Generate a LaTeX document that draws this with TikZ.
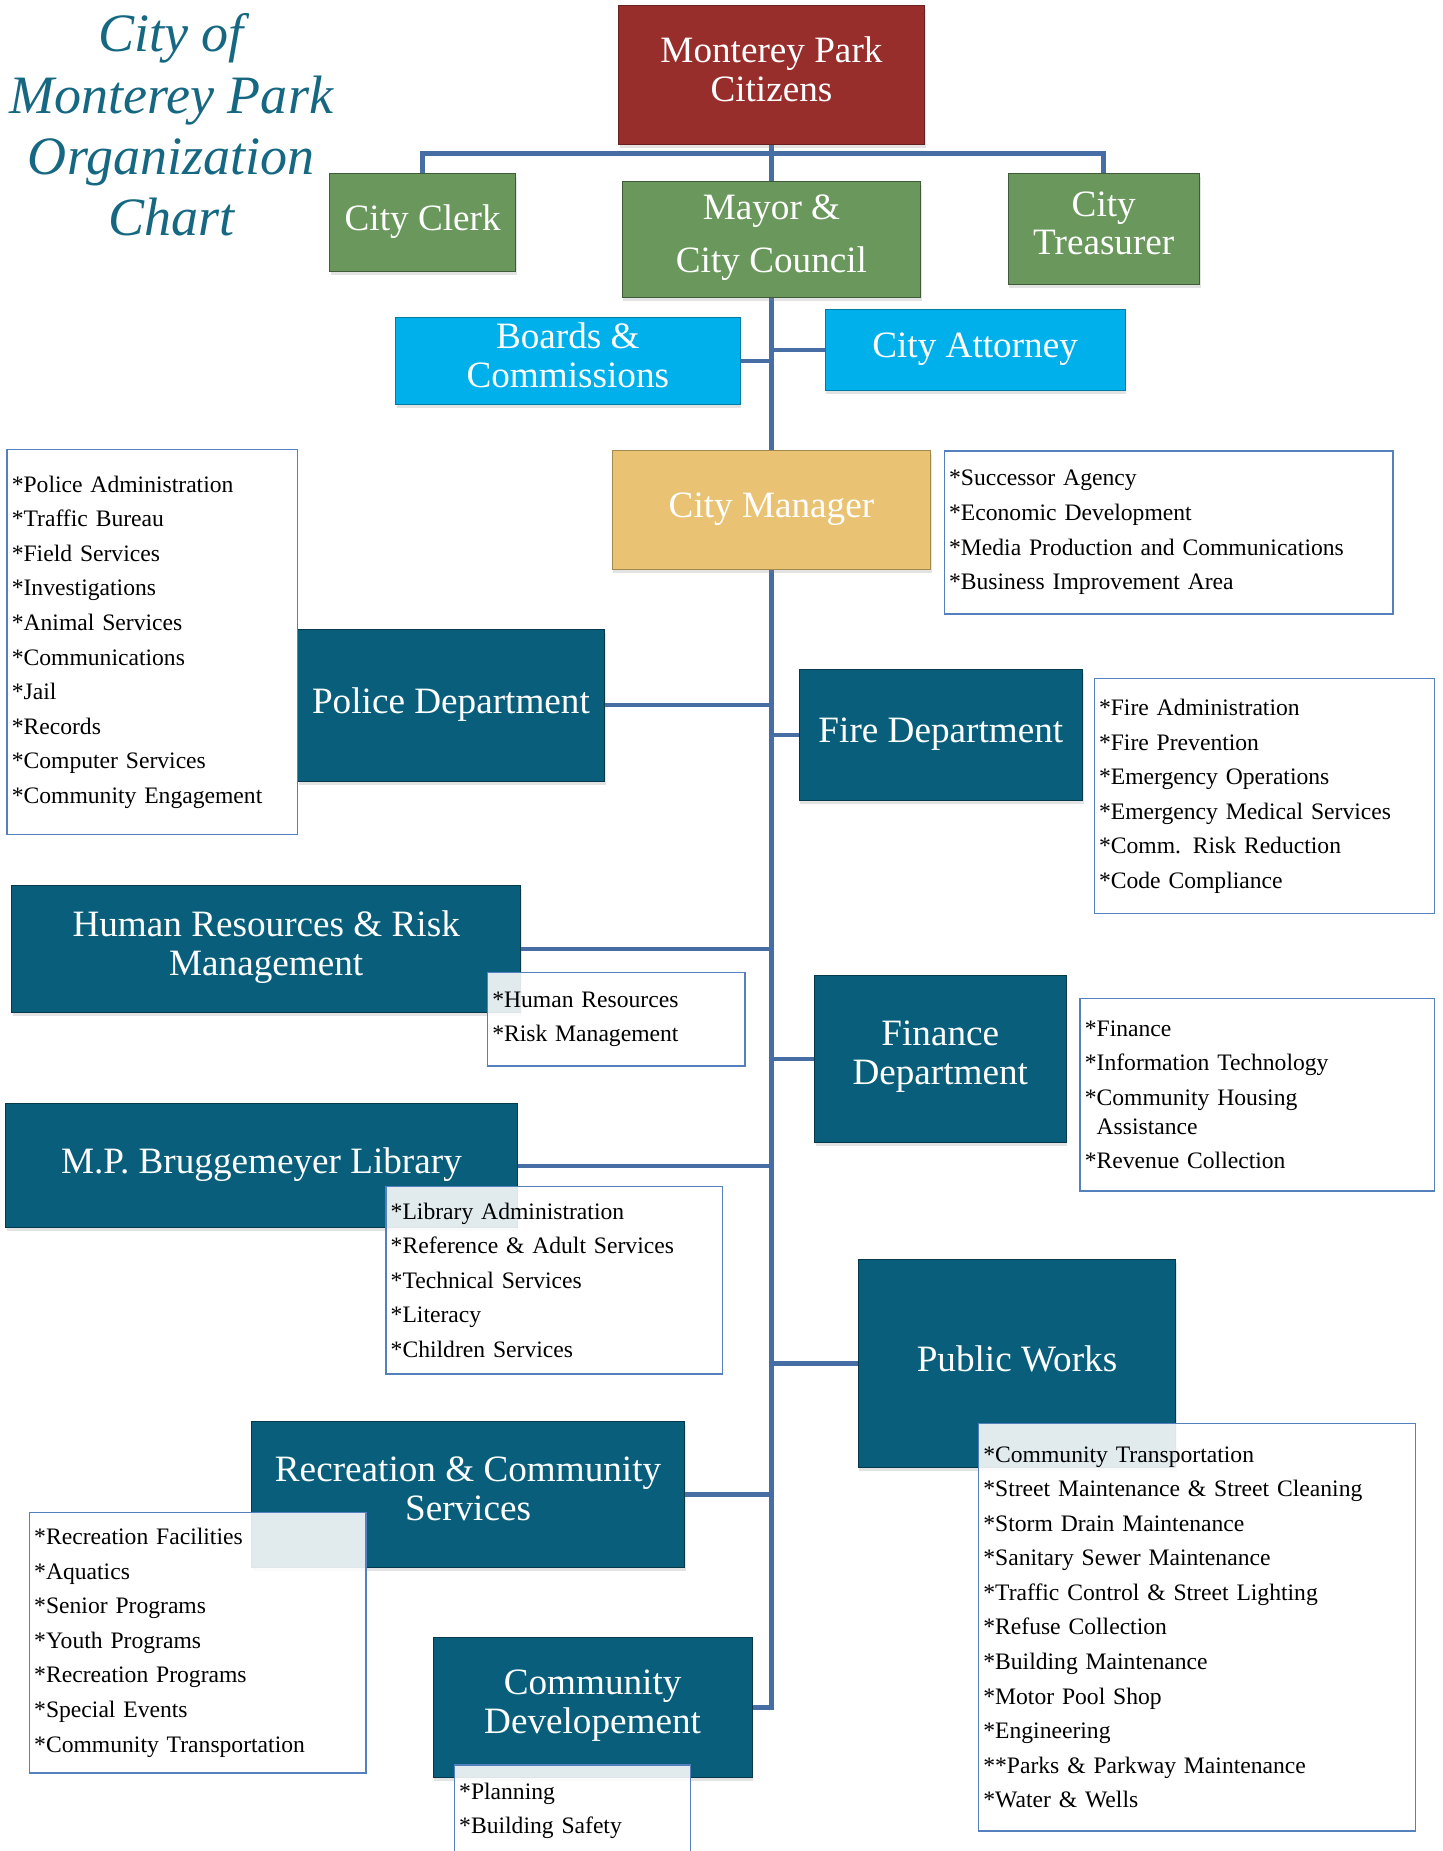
\documentclass[tikz,border=0pt]{standalone}
\usepackage{fontspec}
\setmainfont{Liberation Serif}
\usetikzlibrary{shadows, backgrounds}
\definecolor{citred}{RGB}{152,46,44}
\definecolor{electgreen}{RGB}{106,152,92}
\definecolor{advblue}{RGB}{0,176,235}
\definecolor{mgrgold}{RGB}{233,195,115}
\definecolor{deptteal}{RGB}{9,95,123}
\definecolor{linkblue}{RGB}{70,110,165}
\definecolor{listblue}{RGB}{84,128,190}
\definecolor{titleteal}{RGB}{22,104,130}
\tikzstyle{box} = [rectangle, inner sep=0pt, outer sep=0pt, text=white, align=center, font=\fontsize{31.5}{33}\selectfont, execute at end node={\strut}, line width=0.8pt, drop shadow={shadow xshift=1pt, shadow yshift=-3pt, opacity=0.22}]
\tikzstyle{citizens} = [box, fill=citred, draw=citred!70!black]
\tikzstyle{elected} = [box, fill=electgreen, draw=electgreen!60!black]
\tikzstyle{advisory} = [box, fill=advblue, draw=advblue!70!black]
\tikzstyle{manager} = [box, fill=mgrgold, draw=mgrgold!70!black]
\tikzstyle{dept} = [box, fill=deptteal, draw=deptteal!60!black]
\tikzstyle{duties} = [rectangle, draw=listblue, line width=1.2pt, fill=white, fill opacity=0.88, text opacity=1, inner xsep=4pt, inner ysep=0pt, align=left, font=\fontsize{20}{29.3}\selectfont]
\tikzstyle{link} = [draw=linkblue, line width=3.6pt]
\begin{document}
\begin{tikzpicture}[x=1pt, y=-1pt]
\useasboundingbox (0,0) rectangle (1222,1568);

\node (title) [font=\itshape\fontsize{45.8}{52}\selectfont, text=titleteal, align=center] at (145,106) {City of\\Monterey Park\\Organization\\Chart};

% elected and appointed
\node (cit) [citizens, minimum width=259pt, minimum height=117pt] at (653.5,63.5) {Monterey Park\\Citizens};
\node (clerk) [elected, minimum width=158pt, minimum height=83pt] at (358,188.5) {City Clerk};
\node (mayor) [elected, minimum width=253pt, minimum height=98pt] at (653.5,203) {Mayor \&\\[12pt]City Council};
\node (treas) [elected, minimum width=162pt, minimum height=94pt] at (935,194) {City\\Treasurer};
\node (boards) [advisory, minimum width=292pt, minimum height=74pt] at (481,306) {Boards \&\\Commissions};
\node (atty) [advisory, minimum width=254pt, minimum height=69pt] at (826,296.5) {City Attorney};
\node (mgr) [manager, minimum width=270pt, minimum height=100pt] at (653.5,432) {City Manager};

% departments
\node (police) [dept, minimum width=260pt, minimum height=129pt] at (382,597.5) {Police Department};
\node (fire) [dept, minimum width=240pt, minimum height=111pt] at (797,622.5) {Fire Department};
\node (hr) [dept, minimum width=431pt, minimum height=108pt] at (225.5,804) {Human Resources \& Risk\\Management};
\node (fin) [dept, minimum width=213pt, minimum height=142pt] at (796.5,897) {Finance\\Department};
\node (lib) [dept, minimum width=433pt, minimum height=105pt] at (221.5,987.5) {M.P. Bruggemeyer Library};
\node (pw) [dept, minimum width=269pt, minimum height=176pt] at (861.5,1155) {Public Works};
\node (rec) [dept, minimum width=367pt, minimum height=124pt] at (396.5,1266) {Recreation \& Community\\Services};
\node (cd) [dept, minimum width=270pt, minimum height=119pt] at (502,1446.5) {Community\\Developement};

\coordinate (bus) at (653.5,130);

\begin{scope}[on background layer]
\draw [link] (cit.south) -- (mayor.north);
\draw [link, line width=4.2pt] (clerk.north) |- (bus) -| (treas.north);
\draw [link] (mayor.south) -- (mgr.north);
\draw [link] (mgr.south) |- (cd.east);
\draw [link] (boards.east) -- (boards.east -| mgr.north);
\draw [link] (atty.west) -- (atty.west -| mgr.north);
\draw [link] (police.east) -- (police.east -| mgr.south);
\draw [link] (fire.west) -- (fire.west -| mgr.south);
\draw [link] (hr.east) -- (hr.east -| mgr.south);
\draw [link] (fin.west) -- (fin.west -| mgr.south);
\draw [link] (lib.east) -- (lib.east -| mgr.south);
\draw [link] (pw.west) -- (pw.west -| mgr.south);
\draw [link] (rec.east) -- (rec.east -| mgr.south);
\end{scope}

% duty lists
\node (mgrlist) [duties, text width=372pt, minimum height=138pt] at (990,451) {*Successor Agency\\{}*Economic Development\\{}*Media Production and Communications\\{}*Business Improvement Area};
\node (policelist) [duties, text width=238pt, minimum height=326pt] at (129,544) {*Police Administration\\{}*Traffic Bureau\\{}*Field Services\\{}*Investigations\\{}*Animal Services\\{}*Communications\\{}*Jail\\{}*Records\\{}*Computer Services\\{}*Community Engagement};
\node (firelist) [duties, text width=280pt, minimum height=199pt] at (1071,674.5) {*Fire Administration\\{}*Fire Prevention\\{}*Emergency Operations\\{}*Emergency Medical Services\\{}*Comm. Risk Reduction\\{}*Code Compliance};
\node (hrlist) [duties, text width=210pt, minimum height=79pt] at (522,863.5) {*Human Resources\\{}*Risk Management};
\node (finlist) [duties, text width=292pt, minimum height=163pt] at (1065,927.5) {*Finance\\{}*Information Technology\\{}*Community Housing\\[-5pt]\hspace*{10pt}Assistance\\{}*Revenue Collection};
\node (liblist) [duties, text width=277pt, minimum height=159pt] at (469.5,1084.5) {*Library Administration\\{}*Reference \& Adult Services\\{}*Technical Services\\{}*Literacy\\{}*Children Services};
\node (pwlist) [duties, text width=362pt, minimum height=345pt] at (1014,1378.5) {*Community Transportation\\{}*Street Maintenance \& Street Cleaning\\{}*Storm Drain Maintenance\\{}*Sanitary Sewer Maintenance\\{}*Traffic Control \& Street Lighting\\{}*Refuse Collection\\{}*Building Maintenance\\{}*Motor Pool Shop\\{}*Engineering\\{}**Parks \& Parkway Maintenance\\{}*Water \& Wells};
\node (reclist) [duties, text width=277pt, minimum height=221pt] at (167.5,1391.5) {*Recreation Facilities\\{}*Aquatics\\{}*Senior Programs\\{}*Youth Programs\\{}*Recreation Programs\\{}*Special Events\\{}*Community Transportation};
\node (cdlist) [duties, text width=192pt, minimum height=78pt] at (485,1534) {*Planning\\{}*Building Safety};

\end{tikzpicture}
\end{document}
